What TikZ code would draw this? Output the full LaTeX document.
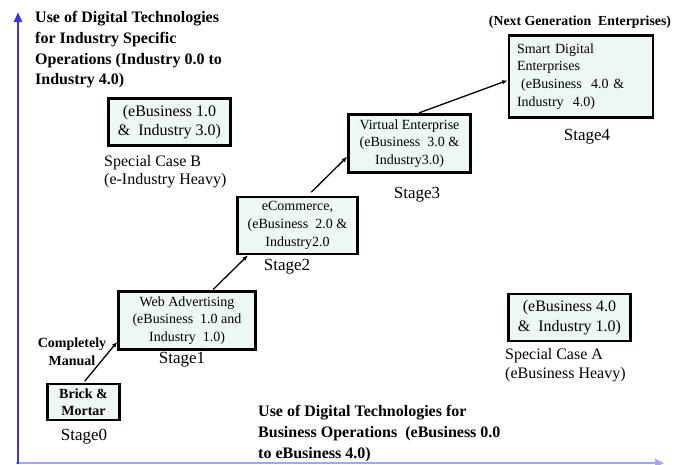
\documentclass[tikz,border=0pt]{standalone}
\usepackage{fontspec}
\setmainfont{Liberation Serif}
\usetikzlibrary{arrows.meta}
\usetikzlibrary{calc}

\definecolor{boxfill}{RGB}{237,248,243}
\definecolor{axisblue}{RGB}{58,58,215}
\definecolor{axislight}{RGB}{165,165,235}

\begin{document}
\begin{tikzpicture}[x=1pt,y=-1pt,
    stagebox/.style={draw,line width=2.6pt,fill=boxfill,align=center,inner sep=0pt,
      font=\fontsize{14}{17.8}\selectfont},
    casebox/.style={stagebox,font=\fontsize{16}{19.5}\selectfont},
    stagelbl/.style={font=\fontsize{17}{20}\selectfont},
    caselbl/.style={anchor=north west,inner sep=0pt,align=left,font=\fontsize{16}{19}\selectfont},
    axislbl/.style={anchor=north west,inner sep=0pt,align=left,font=\bfseries\fontsize{16}{20.6}\selectfont},
    step arrow/.style={-{Latex[length=5.5pt,width=4.5pt]},line width=1.3pt}]
    \useasboundingbox (0,0) rectangle (683,464);
    % axes
    \coordinate (O) at (18,462.5);
    \coordinate (Ytop) at (18,12);
    \coordinate (Xend) at (664,463);
    \draw[axislight,line width=2pt,-{Triangle[length=9pt,width=8pt]}] (16,463) -- (Xend);
    \draw[axisblue,line width=2.6pt,-{Triangle[length=10pt,width=8pt]}] ($(O)+(0,1.5)$) -- (Ytop);
    \node[axislbl] (ylabel) at (35,11.5) {Use of Digital Technologies\\for Industry Specific\\Operations (Industry 0.0 to\\Industry 4.0)};
    \node[axislbl] (xlabel) at (258,405.5) {Use of Digital Technologies for\\Business Operations\ \ (eBusiness 0.0\\to eBusiness 4.0)};
    % stages
    \node[stagebox,minimum width=72pt,minimum height=36pt,font=\bfseries\fontsize{14}{16.5}\selectfont] (S0) at (83.5,402) {Brick \&\\Mortar};
    \node[stagebox,minimum width=137pt,minimum height=58pt] (S1) at (187,320.5) {Web Advertising\\(eBusiness\ \ 1.0 and\\Industry\ \ 1.0)};
    \node[stagebox,minimum width=120pt,minimum height=57pt] (S2) at (297.5,225.5) {eCommerce,\\(eBusiness\ \ 2.0 \&\\Industry2.0};
    \node[stagebox,minimum width=122pt,minimum height=58pt] (S3) at (409.5,143.5) {Virtual Enterprise\\(eBusiness\ \ 3.0 \&\\Industry3.0)};
    \node[stagebox,align=left,text width=128pt,inner sep=8pt,minimum height=76pt] (S4) at (581,76.5) {Smart Digital\\Enterprises\\\hspace*{0.3em}(eBusiness\ \ 4.0 \&\\Industry\ \ 4.0)};
    \node[stagelbl] (L0) at (84,437) {Stage0};
    \node[stagelbl] (L1) at (182,360) {Stage1};
    \node[stagelbl] (L2) at (287,267) {Stage2};
    \node[stagelbl] (L3) at (417,195) {Stage3};
    \node[stagelbl] (L4) at (587,137) {Stage4};
    \node[font=\bfseries\fontsize{14}{18}\selectfont,align=center] (manual) at (72,352) {Completely\\Manual};
    \node[font=\bfseries\fontsize{13.8}{16}\selectfont] (nextgen) at (580,22) {(Next Generation\ \ Enterprises)};
    \draw[step arrow,shorten <=2pt] (S0.north) -- (S1.197);
    \draw[step arrow,shorten <=1pt] (S1.50) -- (S2.211);
    \draw[step arrow,shorten <=5pt] (S2.71) -- (S3.192);
    \draw[step arrow,shorten <=1pt] (S3.74) -- (S4.183);
    % special cases
    \node[casebox,minimum width=122pt,minimum height=47pt] (SA) at (569.5,317.5) {(eBusiness 4.0\\\&\ \ Industry 1.0)};
    \node[casebox,minimum width=122pt,minimum height=47pt,font=\fontsize{16}{18.5}\selectfont] (SB) at (169.5,122) {(eBusiness 1.0\\\&\ \ Industry 3.0)};
    \node[caselbl] (LA) at (505,348) {Special Case A\\(eBusiness Heavy)};
    \node[caselbl,font=\fontsize{16}{18}\selectfont] (LB) at (104,155) {Special Case B\\(e-Industry Heavy)};
\end{tikzpicture}
\end{document}
